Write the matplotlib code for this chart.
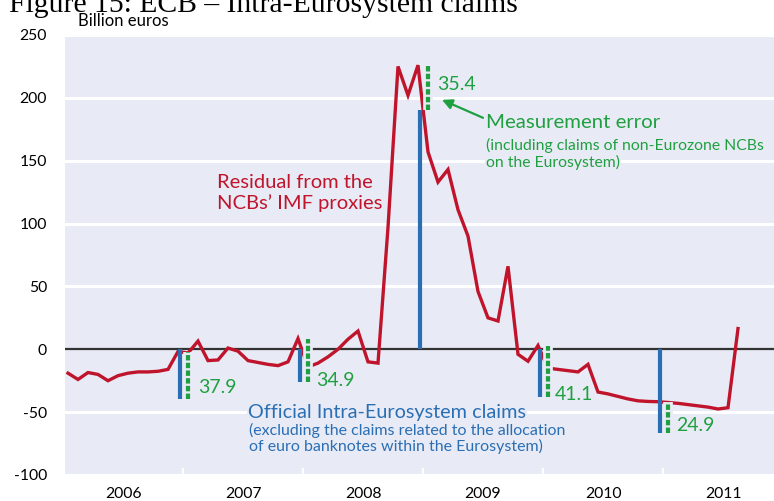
import numpy as np
import matplotlib
matplotlib.use("Agg")
import matplotlib.pyplot as plt

# ---------------- data ----------------
years = [2006, 2007, 2008, 2009, 2010, 2011]
residual = [
    # 2006
    -19, -24, -18.5, -20, -25, -21, -19, -18, -18, -17.5, -16, -1.8,
    # 2007
    -3, 6.5, -9, -8.5, 1, -1.5, -9, -10.5, -12, -13, -10, 8.5,
    # 2008
    -14, -11, -6, 0, 8, 14.5, -10, -11, 97, 225, 202, 226,
    # 2009
    157, 133, 143, 111, 90, 46, 25, 22.5, 66, -4, -9.5, 3,
    # 2010
    -15, -16, -17, -18, -12, -34, -35.5, -37.5, -39.5, -41, -41.5, -41.7,
    # 2011
    -42.3, -43, -44, -45, -46, -47.5, -46.5, 16.5,
]
bar_years = [2006, 2007, 2008, 2009, 2010]
official = [-39.7, -26.4, 190.6, -38.1, -66.6]
meas_error = [37.9, 34.9, 35.4, 41.1, 24.9]
yticks = [-100, -50, 0, 50, 100, 150, 200, 250]

# ---------------- style ----------------
BG = "#e8ebf5"
RED = "#c0142c"
BLUE = "#2a6eb4"
GREEN = "#1fa040"
FONT = "Lato"

fig = plt.figure(figsize=(7.74, 5.01), dpi=100)
ax = fig.add_axes([65 / 774, 26 / 501, 709 / 774, 440 / 501])
ax.set_facecolor(BG)
for s in ax.spines.values():
    s.set_visible(False)

x0, x1 = 2006 + 2 / 120, 2006 + 711 / 120
ax.set_xlim(x0, x1)
ax.set_ylim(-100, 250)

# gridlines
for v in yticks:
    if v != 0:
        ax.axhline(v, color="white", lw=2.2, zorder=1)
ax.axhline(0, color="#333333", lw=1.6, zorder=3)

# residual line (monthly, plotted at mid-month)
t = 2006 + (np.arange(len(residual)) + 0.5) / 12
ax.plot(t, residual, color=RED, lw=2.4, zorder=4, solid_joinstyle="miter")

# bars at year ends
for yr, off, err in zip(bar_years, official, meas_error):
    xe = yr + 1
    xb = xe - 0.35 / 12
    xg = xe + 0.45 / 12
    ax.vlines(xb, 0, off, color=BLUE, lw=3.0, zorder=5)
    ax.vlines(xg, off, off + err, color=BG, lw=7, zorder=5)
    ax.vlines(xg, off, off + err, color=GREEN, lw=3.0, zorder=6,
              linestyles=[(0, (1.3, 0.55))])

# ticks
ax.set_yticks(yticks)
ax.set_yticklabels([str(v) for v in yticks], fontsize=11.3, family=FONT)
ax.tick_params(axis="y", length=0, pad=13)
ax.set_xticks([y + 1 for y in years[:-1]])
ax.set_xticklabels([])
ax.tick_params(axis="x", which="major", direction="in", length=5, width=1.6,
               color="white")
ax.set_xticks([y + 0.5 for y in years], minor=True)
ax.set_xticklabels([str(y) for y in years], minor=True, fontsize=11.3,
                   family=FONT)
ax.tick_params(axis="x", which="minor", length=0, pad=9)


def px(xp, yp):
    return 2006 + (xp - 63) / 120, (350 - yp) / 1.26


def label(xp, yp, s, color, size):
    x, y = px(xp, yp)
    ax.text(x, y, s, color=color, fontsize=size, family=FONT, va="center",
            ha="left", zorder=7,
            bbox=dict(boxstyle="square,pad=0.05", fc=BG, ec="none"))


# value labels
label(198, 388, "37.9", GREEN, 14)
label(316, 381, "34.9", GREEN, 14)
label(437, 85, "35.4", GREEN, 14)
label(555, 395, "41.1", GREEN, 14)
label(676, 426, "24.9", GREEN, 14)

label(217, 183, "Residual from the", RED, 14.5)
label(217, 203, "NCBs\u2019 IMF proxies", RED, 14.5)

label(486, 123, "Measurement error", GREEN, 14.7)
label(486, 146, "(including claims of non-Eurozone NCBs", GREEN, 11.3)
label(486, 163, "on the Eurosystem)", GREEN, 11.3)

label(248, 413, "Official Intra-Eurosystem claims", BLUE, 14.3)
label(249, 431, "(excluding the claims related to the allocation", BLUE, 11.5)
label(249, 447, "of euro banknotes within the Eurosystem)", BLUE, 11.5)

# arrow
ax.annotate("", xy=px(442, 100), xytext=px(483, 118),
            arrowprops=dict(arrowstyle="-|>,head_length=0.6,head_width=0.3",
                            color=GREEN, lw=1.6, shrinkA=0, shrinkB=0),
            zorder=7)

# header texts
fig.text(78 / 774, 1 - 26 / 501, "Billion euros", fontsize=12, family=FONT,
         ha="left", va="baseline")
fig.text(9 / 774, 1 - 12 / 501, "Figure 15: ECB \u2013 Intra-Eurosystem claims",
         fontsize=21.3, family="Liberation Serif", ha="left", va="baseline")

fig.savefig("out.png", dpi=100, facecolor="white")
